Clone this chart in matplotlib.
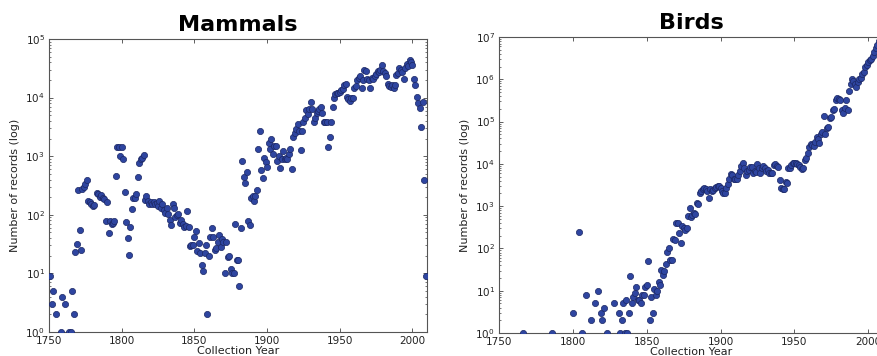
import matplotlib
matplotlib.use("Agg")
import matplotlib.pyplot as plt
from matplotlib.ticker import LogLocator, FixedLocator

# ---------------- data ----------------
mammal_years = [
    1751, 1752, 1753, 1755, 1758, 1759, 1761, 1764, 1765, 1766, 1767, 1768, 1769,
    1770, 1771, 1772, 1773, 1774, 1775, 1776, 1777, 1778, 1779, 1780, 1781, 1783,
    1784, 1785, 1786, 1787, 1788, 1789, 1790, 1791, 1792, 1793, 1794, 1795, 1796,
    1797, 1798, 1799, 1800, 1801, 1802, 1803, 1804, 1805, 1806, 1807, 1808, 1809,
    1810, 1811, 1812, 1813, 1814, 1815, 1816, 1817, 1818, 1819, 1820, 1821, 1822,
    1823, 1824, 1825, 1826, 1827, 1828, 1829, 1830, 1831, 1832, 1833, 1834, 1835,
    1836, 1837, 1838, 1839, 1840, 1841, 1842, 1843, 1844, 1845, 1846, 1847, 1848,
    1849, 1850, 1851, 1852, 1853, 1854, 1855, 1856, 1857, 1858, 1859, 1860, 1861,
    1862, 1863, 1864, 1865, 1866, 1867, 1868, 1869, 1870, 1871, 1872, 1873, 1874,
    1875, 1876, 1877, 1878, 1879, 1880, 1881, 1882, 1883, 1884, 1885, 1886, 1887,
    1888, 1889, 1890, 1891, 1892, 1893, 1894, 1895, 1896, 1897, 1898, 1899, 1900,
    1901, 1902, 1903, 1904, 1905, 1906, 1907, 1908, 1909, 1910, 1911, 1912, 1913,
    1914, 1915, 1916, 1917, 1918, 1919, 1920, 1921, 1922, 1923, 1924, 1925, 1926,
    1927, 1928, 1929, 1930, 1931, 1932, 1933, 1934, 1935, 1936, 1937, 1938, 1939,
    1940, 1941, 1942, 1943, 1944, 1945, 1946, 1947, 1948, 1949, 1950, 1951, 1952,
    1953, 1954, 1955, 1956, 1957, 1958, 1959, 1960, 1961, 1962, 1963, 1964, 1965,
    1966, 1967, 1968, 1969, 1970, 1971, 1972, 1973, 1974, 1975, 1976, 1977, 1978,
    1979, 1980, 1981, 1982, 1983, 1984, 1985, 1986, 1987, 1988, 1989, 1990, 1991,
    1992, 1993, 1994, 1995, 1996, 1997, 1998, 1999, 2000, 2001, 2002, 2003, 2004,
    2005, 2006, 2007, 2008, 2009,
]
mammal_records = [
    9, 3, 5, 2, 1, 4, 3, 1, 1, 5, 2, 23, 32,
    270, 54, 25, 275, 300, 335, 400, 174, 166, 150, 142, 147, 233,
    228, 205, 218, 190, 185, 78, 167, 49, 78, 69, 72, 77, 455,
    1450, 1450, 1020, 1450, 890, 247, 75, 40, 21, 63, 125, 190, 190,
    225, 435, 760, 890, 940, 1050, 180, 210, 170, 155, 165, 150, 165,
    150, 160, 140, 170, 130, 150, 120, 107, 130, 103, 80, 66, 150,
    133, 93, 100, 103, 73, 80, 70, 61, 65, 116, 62, 29, 30,
    31, 41, 53, 24, 33, 22, 14, 11, 22, 31, 2, 20, 41,
    60, 42, 25, 27, 34, 45, 28, 39, 34, 10, 34, 19, 20,
    12, 10, 10, 70, 17, 17, 6, 60, 830, 450, 350, 545, 79,
    67, 195, 210, 174, 210, 262, 1330, 2700, 575, 420, 940, 790, 650,
    1660, 1330, 1950, 1100, 1510, 1510, 830, 1000, 620, 900, 1230, 900, 950,
    900, 1070, 1350, 600, 2100, 2450, 2900, 3500, 2700, 1260, 2700, 3800, 4550,
    6200, 5300, 6300, 8500, 6300, 3800, 4500, 5400, 5900, 6300, 7000, 5400, 3900,
    3800, 3900, 1440, 2100, 3900, 7000, 10000, 11400, 11800, 12000, 12600, 13500, 14000,
    16400, 17000, 10400, 9500, 8700, 10000, 10000, 14500, 16000, 20000, 22000, 23000, 14500,
    20000, 29500, 28000, 21000, 20000, 14800, 21500, 21000, 23000, 25000, 29000, 27000, 30000,
    36000, 28000, 26000, 23000, 17000, 16000, 15000, 16500, 14300, 16500, 24500, 26000, 32000,
    30000, 27000, 21000, 32000, 37000, 35000, 44000, 40000, 36000, 21000, 16500, 10400, 8000,
    6700, 3100, 8300, 390, 9,
]

bird_years = [
    1766, 1786, 1800, 1804, 1806, 1809, 1812, 1815, 1817, 1819, 1820, 1821, 1823,
    1828, 1831, 1832, 1833, 1834, 1835, 1836, 1837, 1838, 1839, 1840, 1841, 1842,
    1843, 1844, 1845, 1846, 1847, 1848, 1849, 1850, 1851, 1852, 1853, 1854, 1855,
    1856, 1857, 1858, 1859, 1860, 1861, 1862, 1863, 1864, 1865, 1866, 1867, 1868,
    1869, 1870, 1871, 1872, 1873, 1874, 1875, 1876, 1877, 1878, 1879, 1880, 1881,
    1882, 1883, 1884, 1885, 1886, 1887, 1888, 1889, 1890, 1891, 1892, 1893, 1894,
    1895, 1896, 1897, 1898, 1899, 1900, 1901, 1902, 1903, 1904, 1905, 1906, 1907,
    1908, 1909, 1910, 1911, 1912, 1913, 1914, 1915, 1916, 1917, 1918, 1919, 1920,
    1921, 1922, 1923, 1924, 1925, 1926, 1927, 1928, 1929, 1930, 1931, 1932, 1933,
    1934, 1935, 1936, 1937, 1938, 1939, 1940, 1941, 1942, 1943, 1944, 1945, 1946,
    1947, 1948, 1949, 1950, 1951, 1952, 1953, 1954, 1955, 1956, 1957, 1958, 1959,
    1960, 1961, 1962, 1963, 1964, 1965, 1966, 1967, 1968, 1969, 1970, 1971, 1972,
    1973, 1974, 1975, 1976, 1977, 1978, 1979, 1980, 1981, 1982, 1983, 1984, 1985,
    1986, 1987, 1988, 1989, 1990, 1991, 1992, 1993, 1994, 1995, 1996, 1997, 1998,
    1999, 2000, 2001, 2002, 2003, 2004, 2005, 2006, 2007,
]
bird_records = [
    1, 1, 3, 240, 1, 8, 2, 5, 10, 3, 2, 4, 1,
    5, 3, 1, 2, 5, 1, 6, 1, 3, 22, 5, 7, 9,
    12, 6, 6, 5, 8, 8, 12, 14, 50, 2, 7, 3, 11,
    8, 10, 16, 14, 31, 23, 30, 42, 84, 100, 53, 53, 166,
    157, 390, 400, 230, 138, 340, 300, 270, 310, 580, 890, 560, 620,
    670, 650, 1200, 1100, 2000, 2300, 2500, 2750, 2600, 2300, 1600, 2500, 2300,
    2400, 2750, 2900, 3000, 3000, 2750, 2300, 2100, 2000, 2750, 3300, 4500, 5700,
    5600, 4500, 4400, 4500, 5500, 6800, 9000, 10200, 8000, 5500, 6600, 7000, 8600,
    8600, 6200, 6600, 6500, 10000, 7800, 6000, 7800, 9000, 8200, 6900, 7000, 6200,
    6200, 6200, 9200, 10000, 8800, 8600, 4100, 2700, 2500, 2500, 3700, 3600, 7800,
    7800, 9400, 10600, 10600, 10300, 10000, 9400, 8500, 7400, 8000, 12300, 14000, 17600,
    25000, 29000, 28000, 27000, 33500, 44000, 38000, 31000, 50000, 57000, 135000, 50000, 69000,
    76000, 123000, 130000, 186000, 200000, 320000, 365000, 340000, 320000, 186000, 156000, 205000, 316000,
    190000, 520000, 760000, 1000000, 930000, 760000, 670000, 870000, 1000000, 1100000, 1300000, 1500000, 2000000,
    2200000, 2600000, 2800000, 3000000, 3600000, 4500000, 5600000, 6600000, 8000000,
]

titles = ["Mammals", "Birds"]
x_label = "Collection Year"
y_label = "Number of records (log)"
x_ticks = [1750, 1800, 1850, 1900, 1950, 2000]

# ---------------- figure ----------------
W, H = 877, 356
fig = plt.figure(figsize=(W / 100, H / 100), dpi=100, facecolor="white")

ax1 = fig.add_axes([49 / W, 1 - 332 / H, 378 / W, 293 / H])
ax2 = fig.add_axes([499 / W, 1 - 333 / H, 384 / W, 296 / H])

face = "#2e45a0"
edge = "#1b2764"
text_col = "#222222"

panels = [
    (ax1, mammal_years, mammal_records, (1, 1e5)),
    (ax2, bird_years, bird_records, (1, 1e7)),
]

for (ax, xs, ys, ylim), title in zip(panels, titles):
    ax.scatter(xs, ys, s=20, c=face, edgecolors=edge, linewidths=0.5, zorder=3)
    ax.set_yscale("log")
    ax.set_xlim(1750, 2010)
    ax.set_ylim(*ylim)
    ax.xaxis.set_major_locator(FixedLocator(x_ticks))
    ax.yaxis.set_major_locator(LogLocator(base=10, numticks=20))
    ax.yaxis.set_minor_locator(LogLocator(base=10, subs=range(2, 10), numticks=20))
    ax.tick_params(which="both", direction="in", top=True, right=True,
                   colors="#444444", labelcolor=text_col, labelsize=7.5, pad=3)
    ax.tick_params(which="major", length=3, width=0.6)
    ax.tick_params(which="minor", length=1.5, width=0.5)
    for sp in ax.spines.values():
        sp.set_color("#555555")
        sp.set_linewidth(0.8)
    ax.set_xlabel(x_label, fontsize=8, color=text_col, labelpad=0)
    ax.set_ylabel(y_label, fontsize=8, color=text_col, labelpad=4)
    ax.set_title(title, fontsize=16, fontweight="bold", color="black", pad=6)

fig.savefig("out.png", dpi=100, facecolor="white")
